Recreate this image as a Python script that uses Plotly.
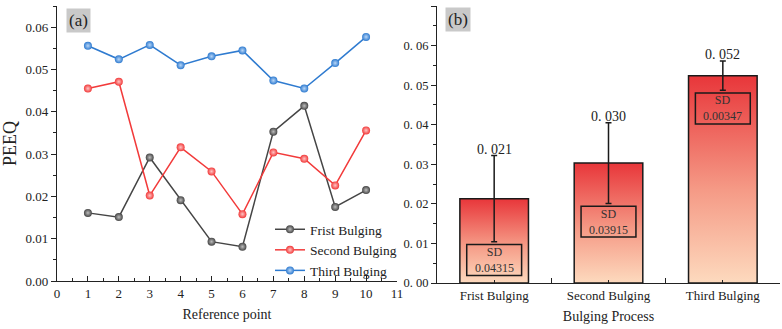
import plotly.graph_objects as go

# ---------------- data ----------------
ref_points = [1, 2, 3, 4, 5, 6, 7, 8, 9, 10]
frist = [0.0161, 0.0151, 0.0292, 0.0191, 0.0093, 0.0081, 0.0353, 0.0414, 0.0175, 0.0215]
second = [0.0455, 0.0471, 0.0202, 0.0316, 0.0259, 0.0158, 0.0304, 0.0289, 0.0226, 0.0356]
third = [0.0556, 0.0524, 0.0558, 0.0510, 0.0531, 0.0545, 0.0474, 0.0455, 0.0515, 0.0577]

process = ["Frist Bulging", "Second Bulging", "Third Bulging"]
means = [0.0213, 0.0303, 0.0524]
errs = [0.0109, 0.0102, 0.0037]
mean_labels = ["0. 021", "0. 030", "0. 052"]
sd_labels = ["0.04315", "0.03915", "0.00347"]

left_yticks = [0.00, 0.01, 0.02, 0.03, 0.04, 0.05, 0.06]
left_yticktext = ["0.00", "0.01", "0.02", "0.03", "0.04", "0.05", "0.06"]
right_yticks = [0.00, 0.01, 0.02, 0.03, 0.04, 0.05, 0.06, 0.07]
right_yticktext = ["0. 00", "0. 01", "0. 02", "0. 03", "0. 04", "0. 05", "0. 06", "0. 07"]

SERIF = "Liberation Serif, Times New Roman, serif"
BAR_W = 0.6

fig = go.Figure()

series = [
    ("Frist Bulging", frist, "#454545", "#bdbdbd"),
    ("Second Bulging", second, "#f23a3a", "#ffc4c4"),
    ("Third Bulging", third, "#2f7bd0", "#b8d6f7"),
]
for name, vals, col, hi in series:
    fig.add_trace(go.Scatter(
        x=ref_points, y=vals, name=name, mode="lines+markers",
        line=dict(color=col, width=1.5),
        marker=dict(size=8, color=col, gradient=dict(type="radial", color=hi)),
        xaxis="x", yaxis="y",
    ))

# gradient bars (polygons computed from the data values)
for i, v in enumerate(means):
    xs = [i - BAR_W / 2, i + BAR_W / 2, i + BAR_W / 2, i - BAR_W / 2, i - BAR_W / 2]
    ys = [0, 0, v, v, 0]
    fig.add_trace(go.Scatter(
        x=xs, y=ys, mode="lines", fill="toself",
        fillgradient=dict(type="vertical",
                          colorscale=[[0, "#fddabe"], [0.45, "#f59a86"], [1, "#e8363a"]]),
        line=dict(color="#1a1a1a", width=1.5),
        showlegend=False, hoverinfo="skip",
        xaxis="x2", yaxis="y2",
    ))

# error bars on top of the bars
fig.add_trace(go.Scatter(
    x=list(range(len(means))), y=means, mode="markers",
    marker=dict(size=1, color="rgba(0,0,0,0)"),
    error_y=dict(type="data", array=errs, visible=True, color="#1a1a1a", thickness=1.5, width=3),
    showlegend=False, hoverinfo="skip",
    xaxis="x2", yaxis="y2",
))

annotations = []
shapes = []
for i, (v, e) in enumerate(zip(means, errs)):
    annotations.append(dict(
        x=i, y=v + e, xref="x2", yref="y2", text=mean_labels[i], showarrow=False,
        yanchor="bottom", yshift=-3, font=dict(family=SERIF, size=14, color="#222"),
    ))
    top = v - e - 0.0007
    bot = top - 0.0078
    shapes.append(dict(
        type="rect", xref="x2", yref="y2", x0=i - 0.24, x1=i + 0.24, y0=bot, y1=top,
        line=dict(color="#1a1a1a", width=1.5), fillcolor="rgba(0,0,0,0)", layer="above",
    ))
    annotations.append(dict(
        x=i, y=(top + bot) / 2, xref="x2", yref="y2", text="SD<br>" + sd_labels[i],
        showarrow=False, font=dict(family=SERIF, size=12, color="#333"),
    ))

# panel labels
annotations.append(dict(
    x=66 / 782, y=1 - 8 / 329, xref="paper", yref="paper", xanchor="left", yanchor="top",
    text="(a)", showarrow=False, bgcolor="#c9c9c9", borderpad=2,
    font=dict(family=SERIF, size=17, color="#222"),
))
annotations.append(dict(
    x=445 / 782, y=1 - 7 / 329, xref="paper", yref="paper", xanchor="left", yanchor="top",
    text="(b)", showarrow=False, bgcolor="#c9c9c9", borderpad=2,
    font=dict(family=SERIF, size=17, color="#222"),
))

axis_common = dict(showline=True, linecolor="#222", linewidth=1.2, showgrid=False, zeroline=False,
                   automargin=False,
                   tickcolor="#222", tickfont=dict(family=SERIF, size=13, color="#222"))

fig.update_layout(
    width=782, height=329,
    margin=dict(l=0, r=0, t=0, b=0),
    paper_bgcolor="white", plot_bgcolor="white",
    showlegend=True,
    legend=dict(x=270 / 782, y=1 - 214 / 329, xanchor="left", yanchor="top",
                bgcolor="rgba(0,0,0,0)", itemwidth=30, tracegroupgap=0,
                font=dict(family=SERIF, size=13.5, color="#222")),
    xaxis=dict(domain=[57 / 782, 397 / 782], range=[0, 11], tickmode="linear", tick0=0, dtick=1,
               ticks="inside", ticklen=5, minor=dict(dtick=0.5, ticks="inside", ticklen=3, tickcolor="#222"),
               title=dict(text="Reference point", font=dict(family=SERIF, size=14, color="#222"), standoff=9),
               anchor="y", **axis_common),
    yaxis=dict(domain=[1 - 281 / 329, 1 - 6 / 329], range=[0, 0.065], tickvals=left_yticks,
               ticktext=left_yticktext, ticks="outside", ticklen=5,
               minor=dict(dtick=0.005, ticks="outside", ticklen=3, tickcolor="#222"),
               title=dict(text="PEEQ", font=dict(family=SERIF, size=18, color="#222"), standoff=7),
               anchor="x", **axis_common),
    xaxis2=dict(domain=[437 / 782, 780 / 782], range=[-0.5, 2.5], tickvals=[0, 1, 2], ticktext=process,
                ticks="inside", ticklen=3,
                minor=dict(tickvals=[0.5, 1.5], ticks="inside", ticklen=5, tickcolor="#222"),
                title=dict(text="Bulging Process", font=dict(family=SERIF, size=14, color="#222"), standoff=9),
                anchor="y2", **axis_common),
    yaxis2=dict(domain=[1 - 283 / 329, 1 - 6 / 329], range=[0, 0.07], tickvals=right_yticks,
                ticktext=right_yticktext, ticks="outside", ticklen=5,
                minor=dict(dtick=0.005, ticks="outside", ticklen=3, tickcolor="#222"),
                tickfont=dict(family=SERIF, size=12.5, color="#222"),
                anchor="x2", **{k: v for k, v in axis_common.items() if k != "tickfont"}),
    annotations=annotations,
    shapes=shapes,
)

fig.write_html("out.html")
